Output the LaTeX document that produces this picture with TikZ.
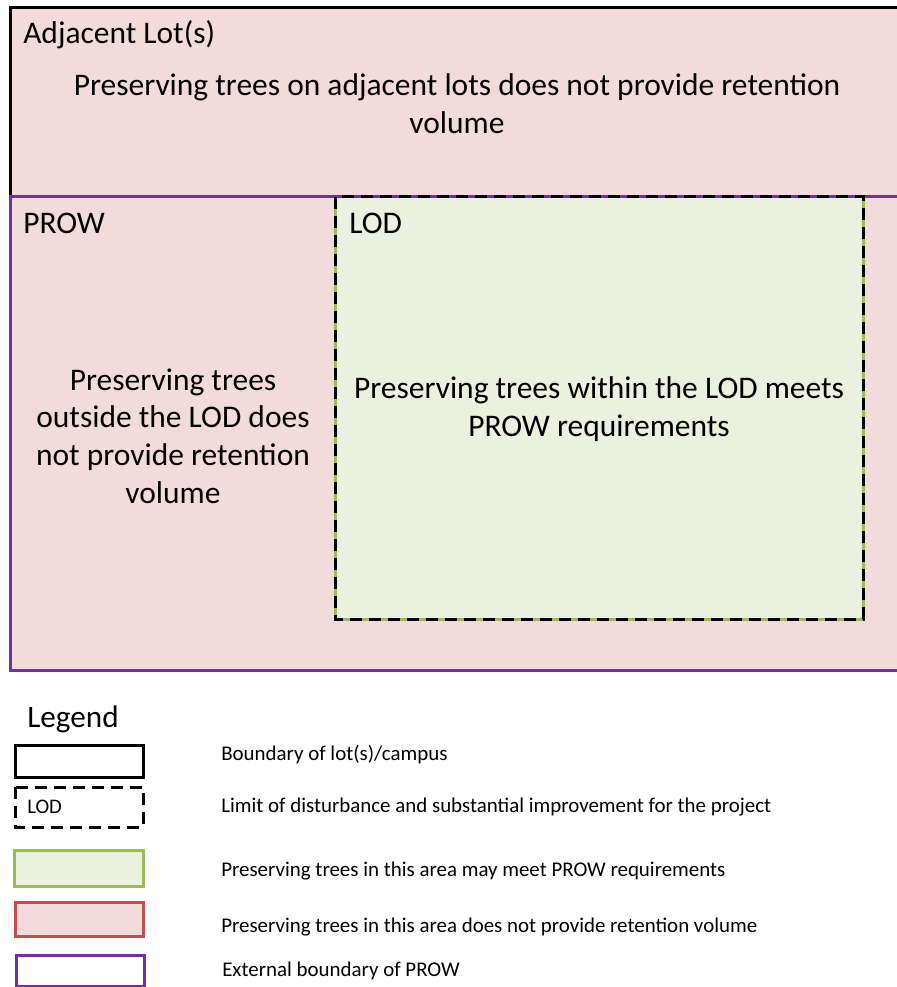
\documentclass[tikz,border=0pt]{standalone}
\usepackage{fontspec}
\setmainfont{Carlito}
\definecolor{pinkfill}{HTML}{F2DCDB}
\definecolor{greenfill}{HTML}{EBF1DE}
\definecolor{greenline}{HTML}{9BBB59}
\definecolor{redline}{HTML}{C0504D}
\definecolor{purpleline}{HTML}{7030A0}
\tikzset{
  lw/.style={line width=2.25pt},
  lodash/.style={lw, black, dash pattern=on 9pt off 5.25pt},
  bigtext/.style={font=\fontsize{23.6}{28.3}\selectfont, align=center, inner sep=0pt},
  labeltext/.style={font=\fontsize{23.6}{28}\selectfont, anchor=west, inner sep=0pt},
  legtext/.style={font=\fontsize{15.7}{18}\selectfont, anchor=west, inner sep=0pt},
}
\begin{document}
\begin{tikzpicture}[x=0.75pt,y=-0.75pt]
\useasboundingbox (0,0) rectangle (896,987);
% areas
\fill[pinkfill] (10,8) rectangle (900,670);
\fill[greenfill] (335,197) rectangle (863,619);
% adjacent lot boundary
\draw[lw, black] (900,8) -- (10,8) -- (10,197);
% LOD green underline
\draw[lw, greenline] (335,197) rectangle (863,619);
% PROW boundary
\draw[lw, purpleline] (900,197) -- (10,197) -- (10,670) -- (900,670);
% LOD dashes
\draw[lodash] (335,197) rectangle (863,619);

% texts
\node[labeltext] (adjlabel) at (23,35) {Adjacent Lot(s)};
\node[bigtext] (adjtext) at (457,104) {Preserving trees on adjacent lots does not provide retention\\volume};
\node[labeltext] (prowlabel) at (23,223) {PROW};
\node[labeltext] (lodlabel) at (349,223) {LOD};
\node[bigtext] (prowtext) at (173,436) {Preserving trees\\outside the LOD does\\not provide retention\\volume};
\node[bigtext] (lodtext) at (599,409) {Preserving trees within the LOD meets\\PROW requirements};

% legend
\node[font=\fontsize{23.4}{28}\selectfont, anchor=west, inner sep=0pt] (legend) at (27,719) {Legend};
\draw[lw, black] (15,745) rectangle (143,777);
\draw[lodash] (15,787) rectangle (143,827);
\node[font=\fontsize{15.5}{18}\selectfont, anchor=west, inner sep=0pt] (legLOD) at (27,807) {LOD};
\draw[lw, greenline, fill=greenfill] (14,850) rectangle (143,886);
\draw[lw, redline, fill=pinkfill] (15,902) rectangle (143,936);
\draw[lw, purpleline] (16,955) rectangle (144,986);

\node[legtext] (leg1) at (221,755) {Boundary of lot(s)/campus};
\node[legtext] (leg2) at (221,807) {Limit of disturbance and substantial improvement for the project};
\node[legtext] (leg3) at (221,871) {Preserving trees in this area may meet PROW requirements};
\node[legtext] (leg4) at (221,927) {Preserving trees in this area does not provide retention volume};
\node[legtext] (leg5) at (222,971) {External boundary of PROW};
\end{tikzpicture}
\end{document}
